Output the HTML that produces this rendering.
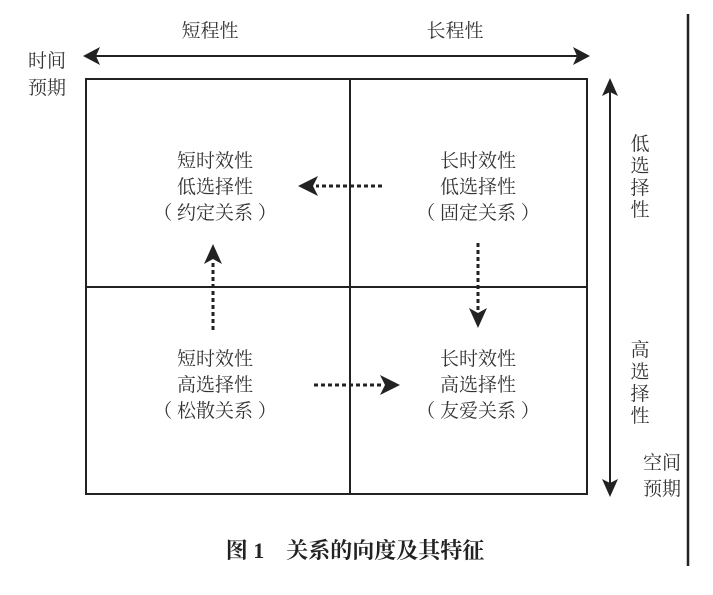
<!DOCTYPE html>
<html><head><meta charset="utf-8"><style>
body{margin:0;background:#fff;width:713px;height:595px;overflow:hidden;font-family:"Liberation Serif","Noto Serif CJK SC",serif;}
svg{position:absolute;left:0;top:0}
text{fill:#333;font-size:19px;font-family:"Liberation Serif","Noto Serif CJK SC",serif}
</style></head><body>
<svg width="713" height="595" viewBox="0 0 713 595">
<g stroke="#222" stroke-width="2" fill="none">
<rect x="86" y="79" width="501" height="415"/>
<line x1="350" y1="79" x2="350" y2="494"/>
<line x1="86" y1="287" x2="587" y2="287"/>
<line x1="95" y1="56" x2="578" y2="56"/>
<line x1="610" y1="90" x2="610" y2="485"/>
<line x1="688" y1="14" x2="688" y2="566" stroke-width="2.5"/>
</g>
<g fill="#222">
<polygon points="83,56 100,47 96,56 100,65"/>
<polygon points="590,56 573,47 577,56 573,65"/>
<polygon points="610,78 602,96 610,92 618,96"/>
<polygon points="610,497 602,479 610,483 618,479"/>
</g>
<g stroke="#222" stroke-width="3" stroke-dasharray="4,3" fill="none">
<line x1="382" y1="186" x2="316" y2="186"/>
<line x1="478" y1="243" x2="478" y2="312"/>
<line x1="213" y1="330" x2="213" y2="262"/>
<line x1="314" y1="385" x2="382" y2="385"/>
</g>
<g fill="#222">
<polygon points="298,186 318,176 313,186 318,196"/>
<polygon points="478,328 469,308 478,313 487,308"/>
<polygon points="213,244 204,264 213,259 222,264"/>
<polygon points="400,385 380,375 385,385 380,395"/>
</g>
<g text-anchor="middle">
<text x="210" y="37">短程性</text>
<text x="455" y="37">长程性</text>
<text x="47" y="67">时间</text>
<text x="47" y="94">预期</text>
<text x="215" y="167">短时效性</text>
<text x="215" y="193">低选择性</text>
<text x="215" y="219">（ 约定关系 ）</text>
<text x="478" y="167">长时效性</text>
<text x="478" y="193">低选择性</text>
<text x="478" y="219">（ 固定关系 ）</text>
<text x="215" y="365">短时效性</text>
<text x="215" y="391">高选择性</text>
<text x="215" y="417">（ 松散关系 ）</text>
<text x="478" y="365">长时效性</text>
<text x="478" y="391">高选择性</text>
<text x="478" y="417">（ 友爱关系 ）</text>
<text x="640" y="150">低</text>
<text x="640" y="172">选</text>
<text x="640" y="194">择</text>
<text x="640" y="216">性</text>
<text x="640" y="356">高</text>
<text x="640" y="378">选</text>
<text x="640" y="400">择</text>
<text x="640" y="422">性</text>
<text x="662" y="469">空间</text>
<text x="662" y="495">预期</text>
<text x="355" y="558" style="font-weight:bold;font-size:22px;fill:#222">图 1　关系的向度及其特征</text>
</g>
</svg>
</body></html>
